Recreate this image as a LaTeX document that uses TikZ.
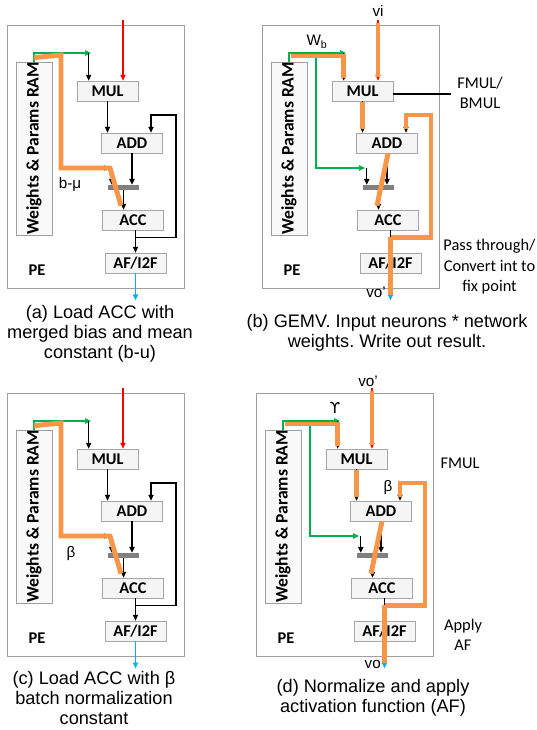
\documentclass[tikz,border=0pt]{standalone}
\usepackage{graphicx}
\usepackage{fontspec}
\setmainfont{Liberation Sans}
\newfontfamily\unitfont{Carlito}
\newfontfamily\dvfont{DejaVu Sans}
\usetikzlibrary{arrows.meta,calc}
\frenchspacing
\definecolor{clrHi}{RGB}{247,150,70}
\definecolor{clrRam}{RGB}{0,176,80}
\definecolor{clrIn}{RGB}{255,0,0}
\definecolor{clrOut}{RGB}{0,176,240}
\tikzset{
  pebox/.style={rectangle,draw=gray!75,line width=0.6pt,minimum width=5.31cm,
    minimum height=7.89cm,inner sep=0pt},
  ramblock/.style={rectangle,draw=gray!75,fill=gray!5,line width=0.6pt,minimum width=1.08cm,
    minimum height=5.13cm,inner sep=0pt,font=\unitfont\fontsize{15}{17}\selectfont\bfseries},
  unit/.style={rectangle,draw=gray!70,fill=gray!8,line width=0.6pt,minimum width=1.83cm,
    minimum height=0.6cm,inner sep=0pt,font=\unitfont\fontsize{14}{16}\selectfont\bfseries},
  muxbar/.style={rectangle,fill=gray,minimum width=0.93cm,minimum height=0.15cm,inner sep=0pt},
  pelabel/.style={font=\unitfont\fontsize{14}{16}\selectfont\bfseries,inner sep=0pt},
  flow/.style={-{Triangle[length=5pt,width=4.5pt]},line width=1pt,black},
  ramflow/.style={flow,clrRam},
  inflow/.style={flow,clrIn},
  outflow/.style={flow,clrOut},
  hilite/.style={clrHi,line width=4.2pt},
  caption/.style={align=center,font=\fontsize{15.5}{17}\selectfont,inner sep=0pt},
  note/.style={align=center,font=\unitfont\fontsize{14}{17.5}\selectfont,inner sep=0pt},
  sig/.style={font=\fontsize{13}{15}\selectfont,inner sep=0pt}
}
% one processing element, node names prefixed by #1
\newcommand{\pebase}[1]{%
  \node[pebox] (#1pe) at (95.5,156.5) {};
  \node[ramblock] (#1ram) at (34,148.5) {\rotatebox{90}{Weights \& Params RAM}};
  \node[unit] (#1mul) at (107.5,91) {MUL};
  \node[unit] (#1add) at (132,143) {ADD};
  \node[muxbar] (#1mux) at (123.5,187.5) {};
  \node[unit] (#1acc) at (133,220) {ACC};
  \node[unit] (#1af) at (135.5,263) {AF/I2F};
  \node[pelabel] (#1pel) at (37,270) {PE};
  \coordinate (#1gtip) at (91,53);
  \coordinate (#1gsplit) at (61,53);
  \coordinate (#1mtip) at (110,168);
  \coordinate (#1src) at ($(#1mul.north)+(15.5,-61)$);
  \coordinate (#1win) at ($(#1mul.north west)+(12,0)$);
  \coordinate (#1mxin) at ($(#1mux.north west)+(4,0)$);
  \coordinate (#1tap) at ($(#1acc.south -| #1af.north)+(0,7)$);
  \coordinate (#1fbr) at (176,115);
  \coordinate (#1fbin) at ($(#1add.north)+(19,0)$);
  \coordinate (#1out) at ($(#1af.south)+(0,27)$);
  \draw[ramflow] (#1ram.north) |- (#1gtip);
  \draw[ramflow] (#1gsplit) |- (#1mtip);
  \draw[flow] (#1gtip -| #1win) -- (#1win);
  \draw[flow] (#1mtip -| #1mxin) -- (#1mxin);
  \draw[inflow] (#1src) -- (#1src |- #1mul.north);
  \draw[flow] (#1mul.south) -- (#1mul.south |- #1add.north);
  \draw[flow] (#1add.south) -- (#1add.south |- #1mux.north);
  \draw[flow] (#1mux.south) -- (#1mux.south |- #1acc.north);
  \draw[flow] (#1acc.south -| #1af.north) -- (#1af.north);
  \draw[flow] (#1tap) -| (#1fbr) -| (#1fbin);
  \draw[outflow] (#1af.south) -- (#1out);
}
% highlighted path: constant loaded into ACC
\newcommand{\loadpath}[1]{%
  \draw[hilite] ($(#1ram.north)+(0,-4)$) -- ($(#1gsplit)+(0,2)$) -- (#1gsplit |- #1mtip)
    -- (#1mtip) -- ($(#1acc.north)+(-12,-4)$);
}
% highlighted path: multiply, accumulate, write out
\newcommand{\macpath}[1]{%
  \draw[hilite] ($(#1ram.north |- #1gtip)+(2,3)$) -| ($(#1win)+(0,-3)$);
  \draw[hilite] ($(#1src)+(0,3)$) -- ($(#1src |- #1mul.north)+(0,-4)$);
  \draw[hilite] ($(#1mul.south)+(0,1)$) -- ($(#1mul.south |- #1add.north)+(0,-4)$);
  \draw[hilite] ($(#1add.south)+(1,0)$) -- ($(#1acc.north)+(-11,-4)$);
  \draw[hilite] (#1tap) -| (#1fbr) -| ($(#1fbin)+(0,-4)$);
  \draw[hilite] (#1tap) -- ($(#1out)+(0,-5)$);
}

\begin{document}
\begin{tikzpicture}[x=0.03cm,y=-0.03cm]
  \useasboundingbox (0,0) rectangle (537,730);
  % (a)
  \begin{scope}
    \pebase{pa}
    \loadpath{pa}
    \node[sig] (pabmu) at (70,184) {b-μ};
    \node[caption] (pacap) at (100,334) {(a) Load ACC with\\merged bias and mean\\constant (b-u)};
  \end{scope}
  % (b)
  \begin{scope}[shift={(255,0)}]
    \pebase{pb}
    \macpath{pb}
    \node[sig] (pbvi) at (123,11) {vi};
    \node[sig] (pbwb) at (62,42) {W\textsubscript{b}};
    \node[note] (pbfmul) at (225,93) {FMUL/\\BMUL};
    \draw[line width=1pt] ($(pbmul.east)+(0,3)$) -- ($(pbmul.east -| pbfmul.west)+(-6,3)$);
    \node[note] (pbpass) at (234.5,267) {Pass through/\\Convert int to\\fix point};
    \node[sig,anchor=east] (pbvo) at (131,292) {vo’};
    \node[caption] (pbcap) at (132,333) {(b) GEMV. Input neurons * network\\weights. Write out result.};
  \end{scope}
  % (c)
  \begin{scope}[shift={(0,368)}]
    \pebase{pc}
    \loadpath{pc}
    \node[sig] (pcbeta) at (71,186) {β};
    \node[caption] (pccap) at (94,330) {(c) Load ACC with β\\batch normalization\\constant};
  \end{scope}
  % (d)
  \begin{scope}[shift={(249,368)}]
    \pebase{pd}
    \macpath{pd}
    \node[sig] (pdvi) at (119,13) {vo’};
    \node[sig] (pdgam) at (86,40) {\dvfont ϒ};
    \node[note] (pdfmul) at (211,95) {FMUL};
    \node[sig] (pdbeta) at (139,120) {β};
    \node[note] (pdaf) at (214,267) {Apply\\AF};
    \node[sig,anchor=east] (pdvo) at (132,296) {vo};
    \node[caption] (pdcap) at (124,330) {(d) Normalize and apply\\activation function (AF)};
  \end{scope}
\end{tikzpicture}
\end{document}
